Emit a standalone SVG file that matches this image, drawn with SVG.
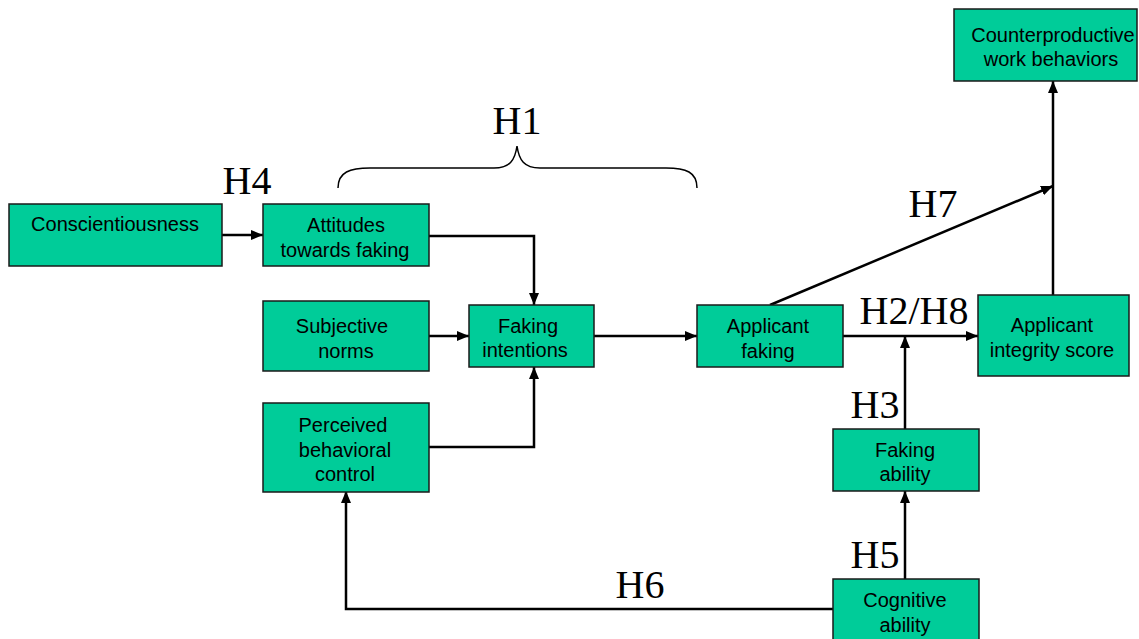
<svg xmlns="http://www.w3.org/2000/svg" width="1139" height="639" viewBox="0 0 1139 639">
<defs>
<marker id="ah" viewBox="0 0 12 10" refX="12" refY="5" markerWidth="12" markerHeight="10" markerUnits="userSpaceOnUse" orient="auto">
<path d="M0,0 L12,5 L0,10 Z" fill="#000"/>
</marker>
<style>
.box{fill:#00cc99;stroke:#1a1a1a;stroke-width:1.5}
.t{font-family:"Liberation Sans",Arial,sans-serif;font-size:20px;fill:#000;text-anchor:middle}
.h{font-family:"Liberation Serif","Times New Roman",serif;font-size:40px;fill:#000;text-anchor:middle}
.c{fill:none;stroke:#000;stroke-width:2.5}
</style>
</defs>
<rect width="1139" height="639" fill="#fff"/>
<g id="connectors">
<path class="c" d="M222,235 H263" marker-end="url(#ah)"/>
<path class="c" d="M429,236 H534 V305" marker-end="url(#ah)"/>
<path class="c" d="M429,336 H469" marker-end="url(#ah)"/>
<path class="c" d="M429,447 H534 V367" marker-end="url(#ah)"/>
<path class="c" d="M594,336 H697" marker-end="url(#ah)"/>
<path class="c" d="M843,336 H978" marker-end="url(#ah)"/>
<path class="c" d="M905,429 V336" marker-end="url(#ah)"/>
<path class="c" d="M905,579 V491" marker-end="url(#ah)"/>
<path class="c" d="M833,609 H346 V491" marker-end="url(#ah)"/>
<path class="c" d="M770,305 L1053,186" marker-end="url(#ah)"/>
<path class="c" d="M1053,295 V81" marker-end="url(#ah)"/>
<path fill="none" stroke="#000" stroke-width="1.5" d="M338,188 C338,172 350,168 370,168 H494 C510,168 515,160 517,146 C519,160 524,168 540,168 H666 C686,168 697,172 697,188"/>
</g>
<g id="labels">
<text class="h" x="247" y="194">H4</text>
<text class="h" x="517" y="134">H1</text>
<text class="h" x="933" y="217">H7</text>
<text class="h" x="914" y="324">H2/H8</text>
<text class="h" x="875" y="418">H3</text>
<text class="h" x="875" y="568">H5</text>
<text class="h" x="640" y="598">H6</text>
</g>
<g id="conscientiousness">
<rect class="box" x="9" y="204" width="213" height="62"/>
<text class="t" x="115" y="231">Conscientiousness</text>
</g>
<g id="attitudes">
<rect class="box" x="263" y="204" width="166" height="62"/>
<text class="t" x="346" y="232">Attitudes</text>
<text class="t" x="345" y="257">towards faking</text>
</g>
<g id="subjective-norms">
<rect class="box" x="263" y="301" width="166" height="70"/>
<text class="t" x="342" y="333">Subjective</text>
<text class="t" x="346" y="358">norms</text>
</g>
<g id="perceived-control">
<rect class="box" x="263" y="403" width="166" height="89"/>
<text class="t" x="343" y="432">Perceived</text>
<text class="t" x="345" y="457">behavioral</text>
<text class="t" x="345" y="481">control</text>
</g>
<g id="faking-intentions">
<rect class="box" x="469" y="305" width="125" height="62"/>
<text class="t" x="528" y="333">Faking</text>
<text class="t" x="525" y="357">intentions</text>
</g>
<g id="applicant-faking">
<rect class="box" x="697" y="305" width="146" height="62"/>
<text class="t" x="768" y="333">Applicant</text>
<text class="t" x="768" y="358">faking</text>
</g>
<g id="applicant-integrity">
<rect class="box" x="978" y="295" width="151" height="81"/>
<text class="t" x="1052" y="332">Applicant</text>
<text class="t" x="1052" y="357">integrity score</text>
</g>
<g id="cwb">
<rect class="box" x="954" y="9" width="183" height="72"/>
<text class="t" x="1053" y="42">Counterproductive</text>
<text class="t" x="1051" y="66">work behaviors</text>
</g>
<g id="faking-ability">
<rect class="box" x="833" y="429" width="146" height="62"/>
<text class="t" x="905" y="457">Faking</text>
<text class="t" x="905" y="481">ability</text>
</g>
<g id="cognitive-ability">
<rect class="box" x="833" y="579" width="146" height="66"/>
<text class="t" x="905" y="607">Cognitive</text>
<text class="t" x="905" y="632">ability</text>
</g>
</svg>
